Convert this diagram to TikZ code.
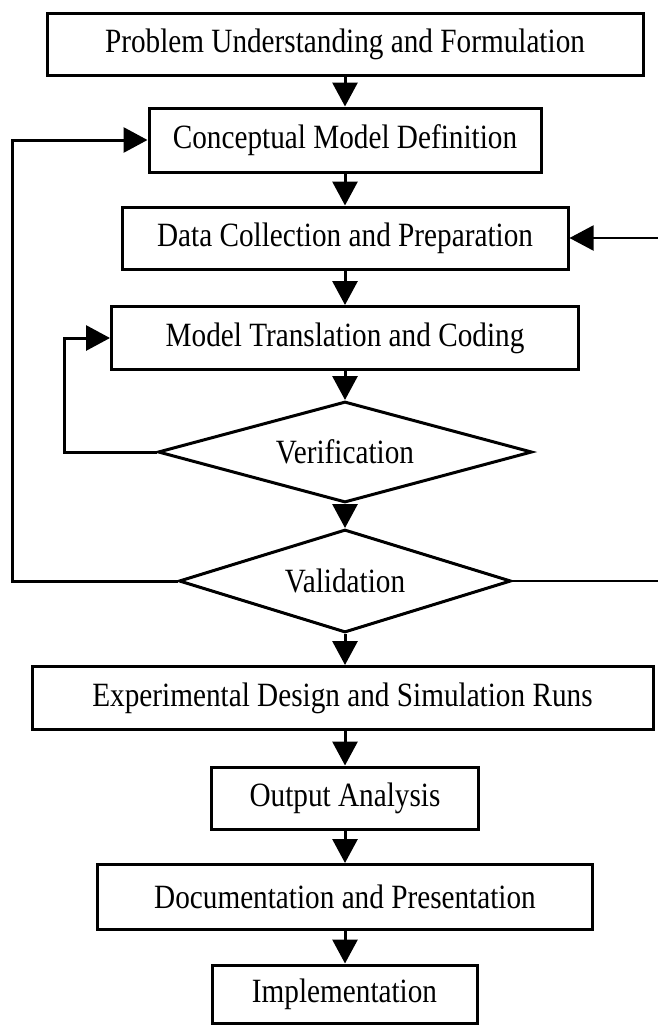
\documentclass[tikz,border=0pt]{standalone}
\usepackage{fontspec}
\setmainfont{Liberation Serif}[FakeStretch=0.86]
\usetikzlibrary{arrows.meta,shapes.geometric}

\begin{document}
\begin{tikzpicture}
  [x=1pt,y=-1pt,
   stage/.style={draw,rectangle,line width=3pt,inner sep=0pt,
     font=\fontsize{34}{40}\selectfont},
   check/.style={stage,diamond,aspect=3.6},
   flow/.style={line width=3pt,-{Triangle[length=24pt,width=25pt]}},
   return/.style={flow,line width=2pt}]
        \useasboundingbox (0,0) rectangle (657,1028);
        \node [stage,minimum width=596,minimum height=62]
          (problem) at (345,44) {Problem Understanding and Formulation};
        \node [stage,minimum width=392,minimum height=64]
          (concept) at (345,140) {Conceptual Model Definition};
        \node [stage,minimum width=446,minimum height=62]
          (data) at (345,238) {Data Collection and Preparation};
        \node [stage,minimum width=467,minimum height=63]
          (model) at (345,338) {Model Translation and Coding};
        \node [check,minimum width=374,minimum height=101]
          (verification) at (345,452) {Verification};
        \node [check,minimum width=332,minimum height=103]
          (validation) at (345,581) {Validation};
        \node [stage,minimum width=621,minimum height=63]
          (experiment) at (342.5,698) {Experimental Design and Simulation Runs};
        \node [stage,minimum width=267,minimum height=62]
          (output) at (345,798) {Output Analysis};
        \node [stage,minimum width=495,minimum height=65]
          (documentation) at (345,897) {Documentation and Presentation};
        \node [stage,minimum width=265,minimum height=58]
          (implementation) at (344.5,994) {Implementation};
        \coordinate (left rail) at (12,581);
        \coordinate (inner rail) at (64,452);
        \coordinate (right rail) at (664,581);
        \draw [flow] (problem) -- (concept);
        \draw [flow] (concept) -- (data);
        \draw [flow] (data) -- (model);
        \draw [flow] (model) -- (verification);
        \draw [flow] (verification) -- (validation);
        \draw [flow]
          (validation)
          -- (validation |- experiment.north)
        ;
        \draw [flow]
          (experiment.south -| output)
          -- (output)
        ;
        \draw [flow] (output) -- (documentation);
        \draw [flow] (documentation) -- (implementation.north -| documentation);
        \draw [flow]
          (verification.west)
          -- (inner rail)
          |- (model.west)
        ;
        \draw [flow]
          (validation.west)
          -- (left rail)
          |- (concept.west)
        ;
        \draw [return]
          (validation.east)
          -- (right rail)
          |- (data.east)
        ;
      \end{tikzpicture}
\end{document}
